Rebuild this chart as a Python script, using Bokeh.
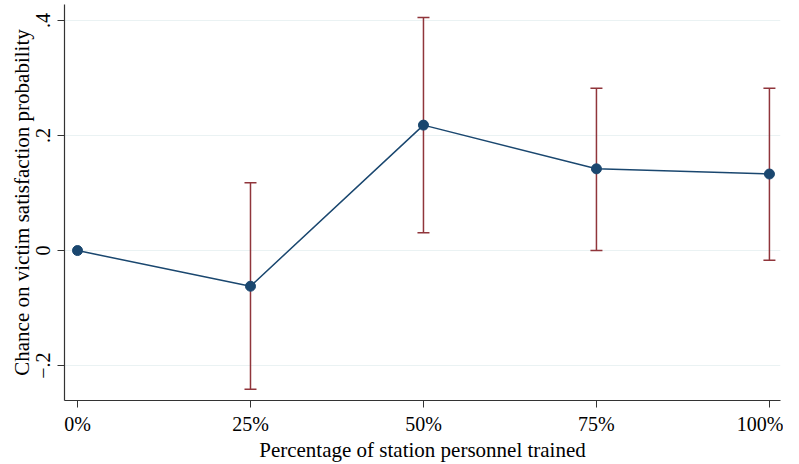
from bokeh.plotting import figure
from bokeh.models import ColumnDataSource, Whisker, TeeHead, FixedTicker, Range1d
from bokeh.embed import file_html
from bokeh.resources import INLINE

# Data
pct = [0, 25, 50, 75, 100]
pct_labels = ["0%", "25%", "50%", "75%", "100%"]
estimate = [0.0, -0.062, 0.218, 0.142, 0.133]
ci_upper = [0.0, 0.118, 0.405, 0.282, 0.282]
ci_lower = [0.0, -0.241, 0.031, 0.0, -0.017]
y_ticks = [-0.2, 0.0, 0.2, 0.4]
y_tick_labels = ["\u2212.2", "0", ".2", ".4"]

FONT = "Liberation Serif"
NAVY = "#1a476f"
MAROON = "#90353b"

p = figure(width=783, height=464, output_backend="svg", toolbar_location=None,
           x_range=Range1d(-1.88, 101.6), y_range=Range1d(-0.2606, 0.4276),
           min_border_left=64, min_border_right=3, min_border_top=4, min_border_bottom=62)
p.outline_line_color = None
p.background_fill_color = "white"
p.border_fill_color = "white"

# error bars (skip the reference category)
err = ColumnDataSource(dict(x=pct[1:], upper=ci_upper[1:], lower=ci_lower[1:]))
w = Whisker(base="x", upper="upper", lower="lower", source=err, dimension="height",
            line_color=MAROON, line_width=1.5,
            upper_head=TeeHead(size=12, line_color=MAROON, line_width=1.5),
            lower_head=TeeHead(size=12, line_color=MAROON, line_width=1.5))
p.add_layout(w)

src = ColumnDataSource(dict(x=pct, y=estimate))
p.line("x", "y", source=src, line_color=NAVY, line_width=1.5)
p.scatter("x", "y", source=src, size=10, fill_color=NAVY, line_color=NAVY)

# axes
p.xaxis.ticker = FixedTicker(ticks=pct)
p.xaxis.major_label_overrides = {v: l for v, l in zip(pct, pct_labels)}
p.yaxis.ticker = FixedTicker(ticks=y_ticks)
p.yaxis.major_label_overrides = {v: l for v, l in zip(y_ticks, y_tick_labels)}
p.yaxis.major_label_orientation = "vertical"

for ax in (p.xaxis, p.yaxis):
    ax.axis_line_color = "#333333"
    ax.axis_line_width = 1.2
    ax.major_tick_line_color = "#333333"
    ax.major_tick_out = 7
    ax.major_tick_in = 0
    ax.minor_tick_line_color = None
    ax.major_label_text_font = FONT
    ax.major_label_text_font_size = "20px"
    ax.major_label_text_color = "black"
    ax.axis_label_text_font = FONT
    ax.axis_label_text_font_size = "21px"
    ax.axis_label_text_font_style = "normal"
    ax.axis_label_text_color = "black"

p.xaxis.major_label_standoff = 5
p.yaxis.major_label_standoff = 7
p.xaxis.axis_label = "Percentage of station personnel trained"
p.yaxis.axis_label = "Chance on victim satisfaction probability"
p.xaxis.axis_label_standoff = 0
p.yaxis.axis_label_standoff = 0

p.xgrid.grid_line_color = None
p.ygrid.grid_line_color = "#eaf2f3"
p.ygrid.grid_line_width = 1.2

open("out.html", "w").write(file_html(p, INLINE))
